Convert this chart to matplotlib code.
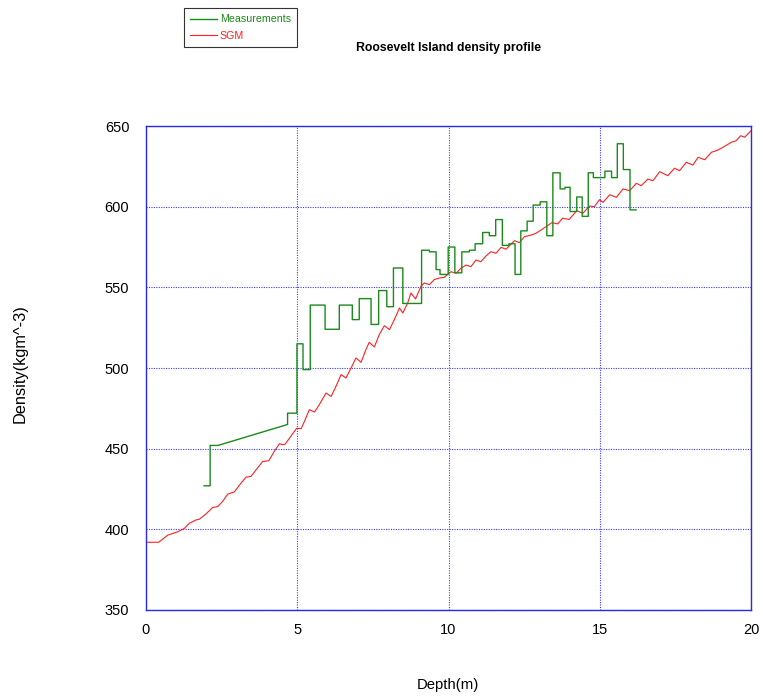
import matplotlib
matplotlib.use("Agg")
import matplotlib.pyplot as plt

plt.rcParams['font.family'] = ['Liberation Sans', 'DejaVu Sans']

# Measured firn density (step profile)
meas_depth = [1.92, 2.12, 2.12, 2.38, 4.68, 4.68, 4.99, 4.99, 5.19, 5.19, 5.43, 5.43,
              5.92, 5.92, 6.39, 6.39, 6.82, 6.82, 7.05, 7.05, 7.44, 7.44, 7.69, 7.69,
              7.96, 7.96, 8.18, 8.18, 8.49, 8.49, 9.11, 9.11, 9.37, 9.37, 9.59, 9.59,
              9.72, 9.72, 9.99, 9.99, 10.21, 10.21, 10.44, 10.44, 10.69, 10.69, 10.88,
              10.88, 11.13, 11.13, 11.35, 11.35, 11.56, 11.56, 11.78, 11.78, 12.0, 12.0,
              12.2, 12.2, 12.39, 12.39, 12.6, 12.6, 12.8, 12.8, 13.03, 13.03, 13.25,
              13.25, 13.45, 13.45, 13.69, 13.69, 13.85, 13.85, 14.02, 14.02, 14.24,
              14.24, 14.42, 14.42, 14.62, 14.62, 14.79, 14.79, 15.17, 15.17, 15.39,
              15.39, 15.58, 15.58, 15.78, 15.78, 16.0, 16.0, 16.2]
meas_density = [427, 427, 452, 452, 465, 472, 472, 515, 515, 499, 499, 539,
                539, 524, 524, 539, 539, 530, 530, 543, 543, 527, 527, 548,
                548, 538, 538, 562, 562, 540, 540, 573, 573, 572, 572, 561,
                561, 558, 558, 575, 575, 559, 559, 572, 572, 573, 573,
                577, 577, 584, 584, 582, 582, 592, 592, 576, 576, 577,
                577, 558, 558, 585, 585, 591, 591, 601, 601, 603, 603,
                582, 582, 621, 621, 611, 611, 612, 612, 597, 597,
                606, 606, 594, 594, 621, 621, 618, 618, 622, 622,
                618, 618, 639, 639, 623, 623, 598, 598]

# SGM model density
sgm_depth = [0.0, 0.42, 0.72, 1.05, 1.27, 1.43, 1.65, 1.76, 1.98, 2.20, 2.37, 2.53,
             2.70, 2.92, 3.14, 3.31, 3.47, 3.64, 3.86, 4.06, 4.24, 4.41, 4.52, 4.60,
             4.80, 4.98, 5.13, 5.24, 5.40, 5.57, 5.73, 5.95, 6.12, 6.28, 6.45, 6.61,
             6.78, 6.94, 7.11, 7.27, 7.38, 7.55, 7.71, 7.88, 8.05, 8.21, 8.38, 8.49,
             8.65, 8.76, 8.91, 9.09, 9.20, 9.37, 9.53, 9.70, 9.86, 10.08, 10.25, 10.41,
             10.58, 10.74, 10.91, 11.07, 11.24, 11.40, 11.57, 11.74, 11.90, 12.18,
             12.34, 12.51, 12.73, 12.89, 13.06, 13.22, 13.42, 13.61, 13.77, 13.99,
             14.24, 14.44, 14.66, 14.82, 14.99, 15.11, 15.33, 15.55, 15.77, 15.99,
             16.21, 16.37, 16.59, 16.76, 16.98, 17.25, 17.47, 17.64, 17.86, 18.08,
             18.25, 18.47, 18.69, 18.91, 19.11, 19.35, 19.51, 19.66, 19.79, 20.0]
sgm_density = [392.0, 392.0, 396.4, 398.5, 400.6, 403.7, 405.8, 406.2, 409.5, 413.5,
               414.1, 417.2, 421.8, 423.2, 428.6, 432.4, 432.8, 436.9, 442.1, 442.5,
               448.3, 453.1, 452.5, 452.8, 458.0, 462.6, 462.4, 467.0, 474.2, 472.7,
               477.3, 484.5, 482.4, 488.6, 495.9, 493.8, 500.0, 506.2, 503.5, 511.4,
               515.9, 513.0, 520.7, 526.2, 523.8, 530.0, 537.2, 534.1, 540.3, 546.5,
               542.8, 550.6, 552.7, 551.7, 554.8, 555.8, 556.2, 559.7, 558.7, 561.8,
               563.8, 562.8, 566.9, 565.9, 569.4, 572.1, 571.1, 574.8, 573.6, 578.9,
               577.7, 581.4, 582.4, 583.5, 585.5, 587.6, 590.1, 589.3, 592.8, 592.1,
               597.5, 595.9, 600.4, 600.0, 604.3, 602.7, 607.4, 605.8, 611.0, 609.9,
               614.5, 613.0, 617.1, 616.1, 621.7, 619.2, 623.8, 622.3, 627.5, 625.8,
               630.6, 629.1, 633.7, 635.1, 637.2, 639.9, 640.9, 644.0, 643.0, 647.1]

x_ticks = [0, 5, 10, 15, 20]
y_ticks = [350, 400, 450, 500, 550, 600, 650]

fig = plt.figure(figsize=(7.63, 6.98), dpi=100)
ax = fig.add_axes([146 / 763, 1 - 610 / 698, 605 / 763, 484 / 698])

line_meas, = ax.plot(meas_depth, meas_density, color='#1a8a1a', lw=1.0,
                     label='Measurements', zorder=3)
line_sgm, = ax.plot(sgm_depth, sgm_density, color='#ff2020', lw=0.8,
                    label='SGM', zorder=2, solid_joinstyle='round')

ax.set_xlim(0, 20)
ax.set_ylim(350, 650)
ax.set_xticks(x_ticks)
ax.set_yticks(y_ticks)
ax.tick_params(length=0, labelsize=10.5, pad=9)
ax.tick_params(axis='y', pad=12)
ax.grid(True, color='#3a3aff', linestyle=(0, (1, 1.2)), lw=0.8)
for s in ax.spines.values():
    s.set_color('#2a2ae6')
    s.set_linewidth(1.0)

fig.text(448 / 763, 1 - 48 / 698, 'Roosevelt Island density profile',
         ha='center', va='center', fontsize=8.8, fontweight='bold')
fig.text(448 / 763, 1 - 685 / 698, 'Depth(m)', ha='center', va='center',
         fontsize=10.7)
fig.text(20 / 763, 1 - 364 / 698, 'Density(kgm^-3)', ha='center', va='center',
         rotation=90, fontsize=11.8)

leg = fig.legend(handles=[line_meas, line_sgm], loc='upper left',
                 bbox_to_anchor=(184 / 763, 1 - 8 / 698), fontsize=7.7,
                 labelcolor='linecolor', frameon=True, fancybox=False,
                 handlelength=2.5, handletextpad=0.25, borderpad=0.6,
                 labelspacing=0.6, borderaxespad=0)
leg.get_frame().set_edgecolor('black')
leg.get_frame().set_linewidth(0.8)

fig.savefig('out.png', dpi=100)
